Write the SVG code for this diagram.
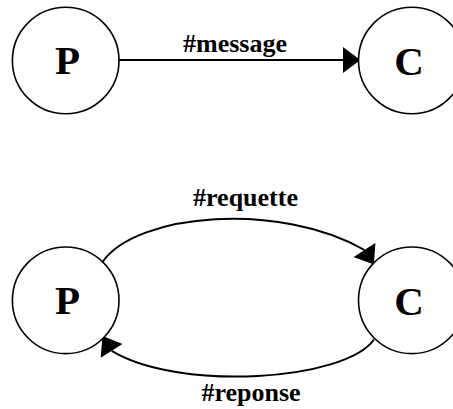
<svg xmlns="http://www.w3.org/2000/svg" width="453" height="409" viewBox="0 0 453 409">
  <style>
    .node { fill: #ffffff; stroke: #000000; stroke-width: 1.6; }
    .big { font-family: "Liberation Serif", "Times New Roman", serif; font-weight: bold; font-size: 41px; text-anchor: middle; fill: #000000; }
    .lbl { font-family: "Liberation Serif", "Times New Roman", serif; font-weight: bold; font-size: 26px; text-anchor: middle; fill: #000000; }
    .edge { fill: none; stroke: #000000; stroke-width: 2; }
  </style>
  <defs>
    <marker id="ahAuto" markerUnits="userSpaceOnUse" markerWidth="18" markerHeight="26" viewBox="0 0 16 24" refX="0" refY="12" orient="auto">
      <path d="M0,0 L16,12 L0,24 Z" fill="#000000"/>
    </marker>
    <marker id="ahDown" markerUnits="userSpaceOnUse" markerWidth="18" markerHeight="26" viewBox="0 0 16 24" refX="0" refY="12" orient="57">
      <path d="M0,0 L16,12 L0,24 Z" fill="#000000"/>
    </marker>
    <marker id="ahUp" markerUnits="userSpaceOnUse" markerWidth="18" markerHeight="26" viewBox="0 0 16 24" refX="0" refY="12" orient="238">
      <path d="M0,0 L16,12 L0,24 Z" fill="#000000"/>
    </marker>
  </defs>

  <g id="connectors">
    <path class="edge" d="M119,60 L343,60" marker-end="url(#ahAuto)"/>
    <path class="edge" d="M102.7,261.7 C137.1,212.6 280.5,201.5 364.5,250" marker-end="url(#ahDown)"/>
    <path class="edge" d="M374,339.5 C345.3,380.5 180,392 111.7,350.8" marker-end="url(#ahUp)"/>
  </g>

  <g id="label-message"><text class="lbl" x="235" y="51.5">#message</text></g>
  <g id="label-requette"><text class="lbl" x="245.5" y="205.5">#requette</text></g>
  <g id="label-reponse"><text class="lbl" x="251" y="400.5">#reponse</text></g>

  <g id="node-P1">
    <circle class="node" cx="65.7" cy="60.5" r="53.3"/>
    <text class="big" x="67.5" y="73.5">P</text>
  </g>
  <g id="node-C1">
    <circle class="node" cx="411.8" cy="60.5" r="53.3"/>
    <text class="big" x="409" y="75">C</text>
  </g>
  <g id="node-P2">
    <circle class="node" cx="65.7" cy="300.3" r="53.3"/>
    <text class="big" x="67.5" y="314">P</text>
  </g>
  <g id="node-C2">
    <circle class="node" cx="411.8" cy="300.3" r="53.3"/>
    <text class="big" x="409" y="315">C</text>
  </g>
</svg>
